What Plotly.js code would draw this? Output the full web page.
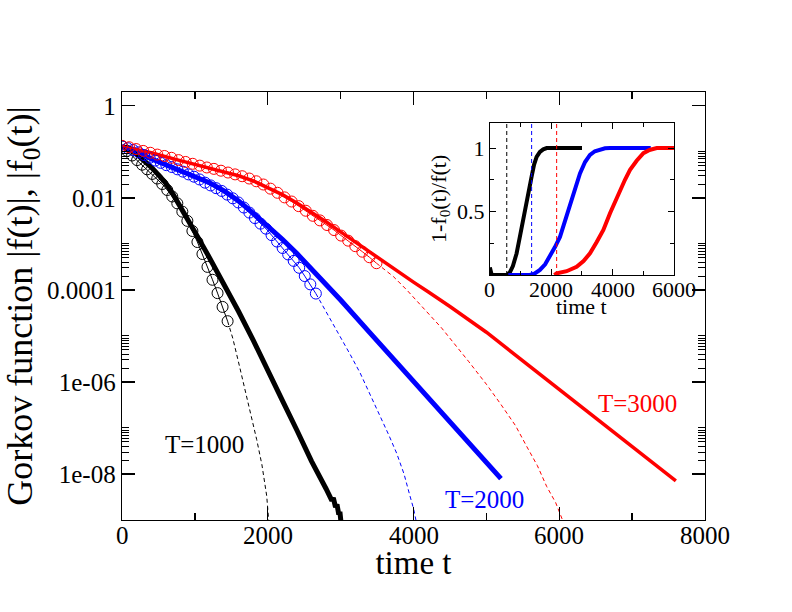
<!DOCTYPE html>
<html>
<head>
<meta charset="utf-8">
<script src="https://cdn.plot.ly/plotly-3.0.1.min.js"></script>
<style>html,body{margin:0;padding:0;background:#fff;}#plot{width:792px;height:612px;}</style>
</head>
<body>
<div id="plot"></div>
<script>
// ---------- main panel data (values stored as log10 of |f|) ----------
// T=1000 (black)
const tBlackF   = [0,100,200,300,400,500,600,700,800,900,1000,1200,1400,1600,1800,2000,2200,2400,2600,2800,2850,2880,2900,2930,2950,2975,2990,3005];
const logBlackF = [-0.88,-0.95,-1.05,-1.18,-1.33,-1.50,-1.68,-1.92,-2.18,-2.46,-2.74,-3.30,-3.86,-4.47,-5.09,-5.72,-6.40,-7.05,-7.72,-8.32,-8.45,-8.58,-8.52,-8.72,-8.66,-8.88,-8.82,-9.05];
const tBlackCirc   = [0,69,138,207,276,345,414,483,552,621,690,759,828,897,966,1035,1104,1173,1242,1311,1380,1449];
const logBlackCirc = [-0.88,-0.98,-1.08,-1.18,-1.28,-1.38,-1.48,-1.58,-1.70,-1.83,-1.97,-2.12,-2.30,-2.50,-2.72,-2.96,-3.22,-3.50,-3.78,-4.07,-4.37,-4.68];
const tBlackF0   = [1449,1520,1596,1660,1733,1790,1848,1920,1986,2015];
const logBlackF0 = [-4.68,-5.05,-5.55,-5.98,-6.46,-6.85,-7.25,-7.80,-8.48,-9.05];

// T=2000 (blue)
const tBlueF   = [0,200,400,600,800,1000,1200,1400,1600,1800,2000,2200,2400,2600,2800,3000,3400,3800,4200,4600,5000,5200];
const logBlueF = [-0.88,-0.99,-1.15,-1.28,-1.40,-1.53,-1.67,-1.85,-2.07,-2.33,-2.61,-2.90,-3.21,-3.54,-3.88,-4.22,-4.93,-5.63,-6.33,-7.02,-7.72,-8.10];
const tBlueCirc   = [0,76,152,228,304,380,456,532,608,684,760,836,912,988,1064,1140,1216,1292,1368,1444,1520,1596,1672,1748,1824,1900,1976,2052,2128,2204,2280,2356,2432,2508,2584,2660];
const logBlueCirc = [-0.88,-0.92,-0.96,-1.01,-1.07,-1.13,-1.19,-1.24,-1.29,-1.33,-1.38,-1.43,-1.49,-1.54,-1.60,-1.67,-1.73,-1.79,-1.85,-1.93,-2.01,-2.10,-2.21,-2.32,-2.44,-2.56,-2.67,-2.81,-2.95,-3.09,-3.23,-3.37,-3.52,-3.70,-3.88,-4.08];
const tBlueF0   = [2660,2740,2860,2991,3130,3266,3400,3540,3660,3769,3870,3952,4000,4040];
const logBlueF0 = [-4.08,-4.30,-4.65,-5.01,-5.40,-5.80,-6.25,-6.74,-7.15,-7.55,-8.00,-8.48,-8.75,-9.05];

// T=3000 (red)
const tRedF   = [0,400,800,1200,1400,1600,1800,2000,2200,2400,2600,2800,3000,3200,3400,3600,3800,4000,4200,4500,5000,5500,6000,6500,7000,7600];
const logRedF = [-0.88,-1.02,-1.19,-1.35,-1.43,-1.52,-1.63,-1.77,-1.93,-2.11,-2.31,-2.52,-2.74,-2.96,-3.18,-3.41,-3.63,-3.83,-4.04,-4.36,-4.92,-5.54,-6.16,-6.78,-7.40,-8.15];
const tRedCirc   = [0,97,194,291,388,485,582,679,776,873,970,1067,1164,1261,1358,1455,1552,1649,1746,1843,1940,2037,2134,2231,2328,2425,2522,2619,2716,2813,2910,3007,3104,3201,3298,3395,3492];
const logRedCirc = [-0.87,-0.90,-0.94,-0.98,-1.02,-1.06,-1.09,-1.13,-1.18,-1.22,-1.26,-1.30,-1.34,-1.37,-1.41,-1.45,-1.49,-1.53,-1.58,-1.64,-1.71,-1.80,-1.89,-1.99,-2.08,-2.18,-2.28,-2.39,-2.49,-2.59,-2.70,-2.82,-2.93,-3.05,-3.17,-3.29,-3.42];
const tRedF0   = [3492,3600,3724,3907,4100,4387,4754,5000,5187,5400,5553,5700,5827,5950,6050];
const logRedF0 = [-3.42,-3.56,-3.71,-4.00,-4.33,-4.83,-5.55,-6.05,-6.46,-6.95,-7.40,-7.82,-8.27,-8.62,-9.02];

// ---------- inset data: 1 - f0(t)/f(t) ----------
const tInBlack = [0,30,60,550,650,750,870,960,1050,1141,1250,1359,1440,1522,1630,1739,1850,2000,3000];
const yInBlack = [0.06,0.01,0,0,0.02,0.07,0.17,0.28,0.40,0.51,0.64,0.775,0.87,0.93,0.97,0.99,1.0,1.0,1.0];
const tInBlue  = [600,1300,1450,1630,1800,1957,2120,2283,2450,2609,2770,2935,3100,3261,3420,3587,3750,3913,5240];
const yInBlue  = [0,0,0.01,0.04,0.085,0.145,0.22,0.30,0.43,0.565,0.69,0.80,0.89,0.946,0.975,0.99,0.998,1.0,1.0];
const tInRed   = [2100,2174,2500,2826,3050,3261,3480,3696,3913,4080,4239,4400,4565,4780,5000,5200,5435,6033];
const yInRed   = [0,0.013,0.03,0.065,0.11,0.171,0.26,0.355,0.487,0.58,0.67,0.75,0.828,0.90,0.96,0.985,1.0,1.0];
const insetMarkers = [550,1360,2175];   // vertical dashed lines (t)

// ---------- ticks and labels ----------
const xTicks = [0,2000,4000,6000,8000];
const xTickText = ['0','2000','4000','6000','8000'];
const xMinor = [1000,3000,5000,7000];
const yTicks = [1,1e-2,1e-4,1e-6,1e-8];
const yTickText = ['1','0.01','0.0001','1e-06','1e-08'];
const yMinorDecades = [-2,-4,-6,-8];
const inXTicks = [0,2000,4000,6000];
const inXTickText = ['0','2000','4000','6000'];
const inXMinor = [1000,3000,5000];
const inYTicks = [0.5,1];
const inYTickText = ['0.5','1'];
const inYMinor = [0.25,0.75];
const labelText = ['T=1000','T=2000','T=3000'];
const labelT    = [1135,4970,7074];
const labelLogY = [-7.36,-8.56,-6.47];

const BLACK = '#000000', BLUE = '#0000ff', RED = '#ff0000';
const FONT = 'Liberation Serif, Times New Roman, serif';
const pw = a => a.map(v => Math.pow(10, v));

const yMinor = [];
yMinorDecades.forEach(d => { for (let k = 2; k <= 10; k++) yMinor.push(k * Math.pow(10, d)); });

function thick(t, lg, c, w) {
  return {x: t, y: pw(lg), type: 'scatter', mode: 'lines', line: {color: c, width: w}, hoverinfo: 'skip'};
}
function circ(t, lg, c) {
  return {x: t, y: pw(lg), type: 'scatter', mode: 'lines+markers', line: {color: c, width: 1},
          marker: {symbol: 'circle-open', size: 11, color: c, line: {width: 1, color: c}}, hoverinfo: 'skip'};
}
function dashed(t, lg, c) {
  return {x: t, y: pw(lg), type: 'scatter', mode: 'lines', line: {color: c, width: 1, dash: '4px,3px'}, hoverinfo: 'skip'};
}
function inset(t, y, c) {
  return {x: t, y: y, xaxis: 'x2', yaxis: 'y2', type: 'scatter', mode: 'lines', line: {color: c, width: 4}, hoverinfo: 'skip'};
}

const data = [
  thick(tBlackF, logBlackF, BLACK, 5),
  thick(tBlueF, logBlueF, BLUE, 5),
  thick(tRedF, logRedF, RED, 3.5),
  dashed(tBlackF0, logBlackF0, BLACK),
  dashed(tBlueF0, logBlueF0, BLUE),
  dashed(tRedF0, logRedF0, RED),
  circ(tBlackCirc, logBlackCirc, BLACK),
  circ(tBlueCirc, logBlueCirc, BLUE),
  circ(tRedCirc, logRedCirc, RED),
  inset(tInBlack, yInBlack, BLACK),
  inset(tInBlue, yInBlue, BLUE),
  inset(tInRed, yInRed, RED)
];

const lineColors = [BLACK, BLUE, RED];
const shapes = insetMarkers.map((t, i) => ({
  type: 'line', xref: 'x2', yref: 'y2 domain', x0: t, x1: t, y0: 0, y1: 1,
  line: {color: lineColors[i], width: 1, dash: '4px,3px'}
}));

const annotations = labelText.map((s, i) => ({
  text: s, x: labelT[i], y: labelLogY[i], xref: 'x', yref: 'y', showarrow: false,
  font: {family: FONT, size: 25, color: lineColors[i]}, xanchor: 'center', yanchor: 'middle'
}));
// x tick labels of the main panel, set close under the axis as in the reference
xTicks.forEach((v, i) => annotations.push({
  text: xTickText[i], x: v, xref: 'x', y: -0.0362, yref: 'paper', showarrow: false,
  font: {family: FONT, size: 25, color: '#000'}, xanchor: 'center', yanchor: 'middle'
}));
// x tick labels of the inset
inXTicks.forEach((v, i) => annotations.push({
  text: inXTickText[i], x: v, xref: 'x2', y: 0.5397, yref: 'paper', showarrow: false,
  font: {family: FONT, size: 22, color: '#000'}, xanchor: 'center', yanchor: 'middle'
}));
// inset x-axis title
annotations.push({
  text: 'time t', xref: 'x2 domain', yref: 'paper', x: 0.5, y: 0.5000, showarrow: false,
  font: {family: FONT, size: 22, color: '#000'}, xanchor: 'center', yanchor: 'middle'
});

const axisCommon = {
  showline: true, linecolor: '#000', linewidth: 1.3, mirror: 'ticks',
  ticks: 'inside', tickcolor: '#000', showgrid: false, zeroline: false
};

const layout = {
  width: 792, height: 612,
  margin: {l: 122, r: 87, t: 92, b: 92},
  paper_bgcolor: '#fff', plot_bgcolor: '#fff',
  showlegend: false,
  font: {family: FONT, color: '#000'},
  xaxis: Object.assign({}, axisCommon, {
    range: [0, 8000], tickmode: 'array', tickvals: xTicks, showticklabels: false,
    ticklen: 13, tickwidth: 1.3,
    minor: {tickmode: 'array', tickvals: xMinor, ticks: 'inside', ticklen: 7, tickcolor: '#000', tickwidth: 1.3},
    title: {text: 'time t', font: {family: FONT, size: 33}, standoff: 30}
  }),
  yaxis: Object.assign({}, axisCommon, {
    type: 'log', range: [-9, 0.3], tickmode: 'array', tickvals: yTicks, ticktext: yTickText,
    ticklen: 13, tickwidth: 1.3, tickfont: {family: FONT, size: 25},
    minor: {tickmode: 'array', tickvals: yMinor, ticks: 'inside', ticklen: 7, tickcolor: '#000', tickwidth: 1},
    title: {text: 'Gorkov function |f(t)|, |f<sub>0</sub>(t)|', font: {family: FONT, size: 36}, standoff: 8}
  }),
  xaxis2: Object.assign({}, axisCommon, {
    domain: [0.631, 0.947], anchor: 'y2', range: [0, 6000],
    tickmode: 'array', tickvals: inXTicks, showticklabels: false,
    ticklen: 6, tickwidth: 1, linewidth: 1,
    minor: {tickmode: 'array', tickvals: inXMinor, ticks: 'inside', ticklen: 4, tickcolor: '#000', tickwidth: 1}
  }),
  yaxis2: Object.assign({}, axisCommon, {
    domain: [0.5724, 0.9283], anchor: 'x2', range: [0, 1.2],
    tickmode: 'array', tickvals: inYTicks, ticktext: inYTickText,
    ticklen: 6, tickwidth: 1, tickfont: {family: FONT, size: 22}, linewidth: 1,
    minor: {tickmode: 'array', tickvals: inYMinor, ticks: 'inside', ticklen: 4, tickcolor: '#000', tickwidth: 1},
    title: {text: '1-f<sub>0</sub>(t)/f(t)', font: {family: FONT, size: 22}, standoff: 4}
  }),
  shapes: shapes,
  annotations: annotations
};

Plotly.newPlot('plot', data, layout, {staticPlot: true, displayModeBar: false});
</script>
</body>
</html>
